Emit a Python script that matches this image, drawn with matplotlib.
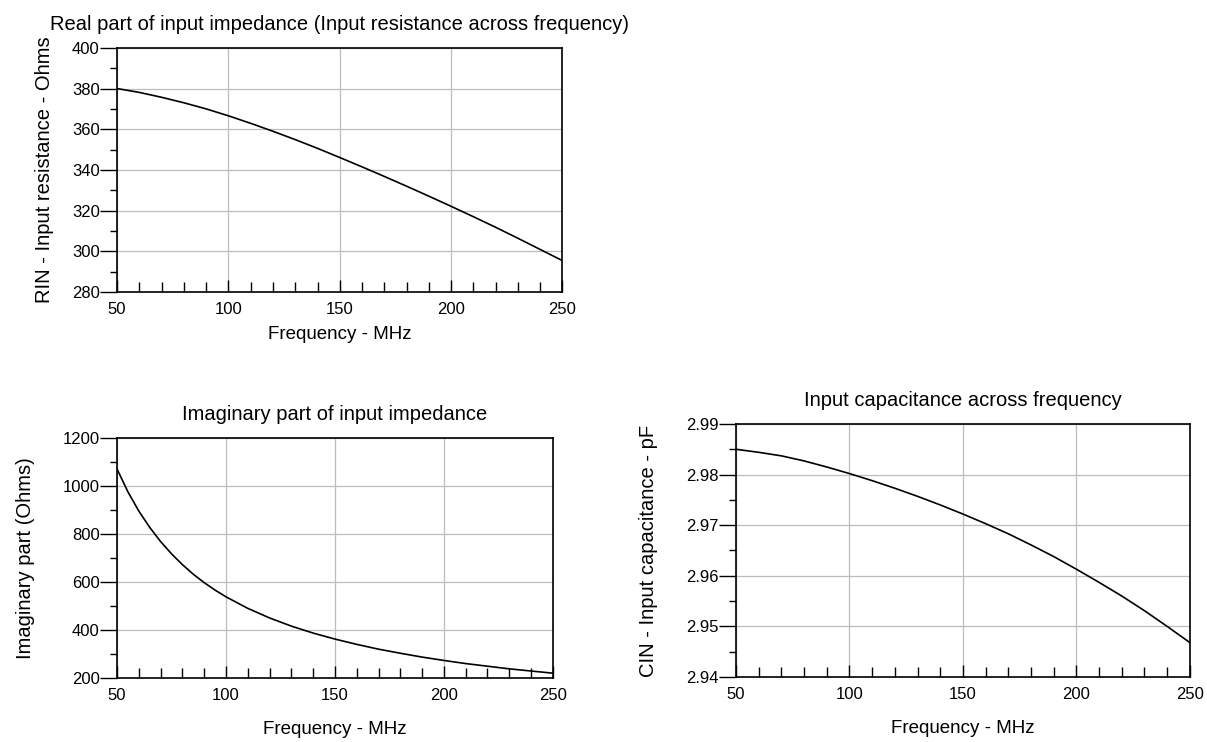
import matplotlib.pyplot as plt
from matplotlib.ticker import MultipleLocator

plt.rcParams['font.family'] = ['Liberation Sans', 'DejaVu Sans']

# --- data ---
freq = [50, 60, 70, 80, 90, 100, 110, 120, 130, 140, 150,
        160, 170, 180, 190, 200, 210, 220, 230, 240, 250]  # MHz

rin = [380.0, 378.1, 375.7, 373.0, 370.0, 366.6, 362.9, 359.0, 354.9, 350.6, 346.1,
       341.5, 336.8, 332.0, 327.1, 322.1, 317.0, 311.8, 306.4, 300.9, 295.4]  # Ohms

cin = [2.9850, 2.9844, 2.9837, 2.9827, 2.9815, 2.9802, 2.9788, 2.9773, 2.9757, 2.9740, 2.9722,
       2.9703, 2.9683, 2.9661, 2.9638, 2.9613, 2.9587, 2.9560, 2.9531, 2.9500, 2.9468]  # pF

# imaginary part bends hard at the low end, so it was read at finer steps there
freq_x = [50, 55, 60, 65, 70, 75, 80, 85, 90, 95, 100,
          110, 120, 130, 140, 150, 160, 170, 180, 190, 200,
          210, 220, 230, 240, 250]  # MHz
ximag = [1070, 975, 895, 827, 768, 717, 672, 632, 597, 566, 538,
         490, 450, 416, 387, 362, 340, 320, 303, 287, 273,
         260, 249, 238, 229, 220]  # Ohms

xlabel = 'Frequency - MHz'


def style_axes(ax, ymajor, yminor, ylim):
    ax.set_xlim(50, 250)
    ax.set_ylim(*ylim)
    ax.xaxis.set_major_locator(MultipleLocator(50))
    ax.xaxis.set_minor_locator(MultipleLocator(10))
    ax.yaxis.set_major_locator(MultipleLocator(ymajor))
    ax.yaxis.set_minor_locator(MultipleLocator(yminor))
    ax.tick_params(axis='x', which='major', direction='in', length=9, width=1,
                   pad=7, labelsize=12, top=False)
    ax.tick_params(axis='x', which='minor', direction='in', length=7, width=1, top=False)
    ax.tick_params(axis='y', which='major', direction='out', length=12, width=1,
                   pad=0.5, labelsize=12, right=False)
    ax.tick_params(axis='y', which='minor', direction='out', length=5, width=1, right=False)
    ax.grid(True, which='major', color='#bdbdbd', linewidth=0.9)
    for s in ax.spines.values():
        s.set_linewidth(1.2)
        s.set_color('black')


fig = plt.figure(figsize=(12.07, 7.42), dpi=100)

# top-left: real part
ax1 = fig.add_axes([0.097, 0.6065, 0.369, 0.329])
ax1.plot(freq, rin, color='black', linewidth=1.2)
style_axes(ax1, 20, 10, (280, 400))
ax1.set_title('Real part of input impedance (Input resistance across frequency)',
              fontsize=14.5, pad=13)
ax1.set_xlabel(xlabel, fontsize=13.5, labelpad=7)
ax1.set_ylabel('RIN - Input resistance - Ohms', fontsize=14.5, labelpad=13)

# bottom-left: imaginary part
ax2 = fig.add_axes([0.097, 0.0863, 0.361, 0.3235])
ax2.plot(freq_x, ximag, color='black', linewidth=1.2)
style_axes(ax2, 200, 100, (200, 1200))
ax2.set_title('Imaginary part of input impedance', fontsize=14.5, pad=13)
ax2.set_xlabel(xlabel, fontsize=13.5, labelpad=13)
ax2.set_ylabel('Imaginary part (Ohms)', fontsize=14.5, labelpad=20)

# bottom-right: capacitance
ax3 = fig.add_axes([0.6098, 0.0876, 0.376, 0.341])
ax3.plot(freq, cin, color='black', linewidth=1.2)
style_axes(ax3, 0.01, 0.005, (2.94, 2.99))
ax3.set_title('Input capacitance across frequency', fontsize=14.5, pad=13)
ax3.set_xlabel(xlabel, fontsize=13.5, labelpad=13)
ax3.set_ylabel('CIN - Input capacitance - pF', fontsize=14.5, labelpad=20)

fig.savefig('out.png', dpi=100)
